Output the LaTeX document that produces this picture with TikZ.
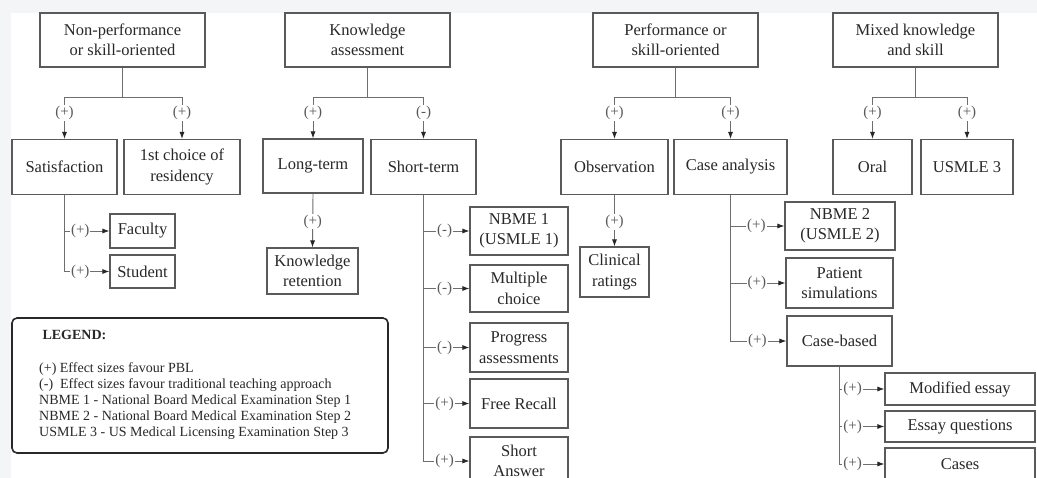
\documentclass[tikz,border=0pt]{standalone}
\usepackage{fontspec}
\setmainfont{Liberation Serif}
\usetikzlibrary{arrows.meta}
\definecolor{linegrey}{RGB}{110,110,110}
\definecolor{boxgrey}{RGB}{90,90,90}
\definecolor{textgrey}{RGB}{40,40,40}
\definecolor{bggrey}{RGB}{244,245,246}
\tikzset{
  box/.style={draw=boxgrey, line width=1.1pt, fill=white, text=textgrey, align=center,
    inner sep=0pt, font=\fontsize{16.5}{20.5}\selectfont},
  conn/.style={draw=linegrey, line width=0.9pt},
  arr/.style={conn, -{Latex[length=7pt,width=5pt,color=black!85]}},
  sign/.style={fill=white, text=black!65, inner sep=1pt, font=\fontsize{15}{15}\selectfont},
}
\begin{document}
\begin{tikzpicture}[x=1pt,y=-1pt]
  \useasboundingbox (0,0) rectangle (1037,478);
  \clip (0,0) rectangle (1037,478);
  \fill[bggrey] (0,0) rectangle (1037,478);
  \fill[white] (11,13) rectangle (1037,478);

  % Top row
  \node[box, minimum width=165, minimum height=54] (np) at (122.5,40) {Non-performance\\or skill-oriented};
  \node[box, minimum width=165, minimum height=54] (ka) at (367.5,40) {Knowledge\\assessment};
  \node[box, minimum width=165, minimum height=54] (ps) at (675.5,40) {Performance or\\skill-oriented};
  \node[box, minimum width=165, minimum height=54] (mk) at (915.5,40) {Mixed knowledge\\and skill};

  % Second row
  \node[box, minimum width=105, minimum height=55] (sat) at (64.5,167) {Satisfaction};
  \node[box, minimum width=116, minimum height=55] (fc) at (182,167) {1st choice of\\residency};
  \node[box, minimum width=100, minimum height=54] (lt) at (313,166) {Long-term};
  \node[box, minimum width=105, minimum height=55] (st) at (423.5,167) {Short-term};
  \node[box, minimum width=107, minimum height=55] (obs) at (614.5,167) {Observation};
  \node[box, minimum width=113, minimum height=55] (ca) at (730.5,167) {Case analysis};
  \node[box, minimum width=79, minimum height=55] (oral) at (872.5,167) {Oral};
  \node[box, minimum width=92, minimum height=55] (us3) at (967,167) {USMLE 3};

  % Third row
  \node[box, minimum width=65, minimum height=34] (fac) at (142.5,231) {Faculty};
  \node[box, minimum width=65, minimum height=33] (stu) at (142.5,271.5) {Student};
  \node[box, minimum width=91, minimum height=46] (kr) at (312.5,271) {Knowledge\\retention};
  \node[box, minimum width=98, minimum height=48] (nb1) at (519,231) {NBME 1\\(USMLE 1)};
  \node[box, minimum width=98, minimum height=47] (mc) at (519,288.5) {Multiple\\choice};
  \node[box, minimum width=98, minimum height=49] (pa) at (519,347.5) {Progress\\assessments};
  \node[box, minimum width=98, minimum height=49] (fr) at (519,403.5) {Free Recall};
  \node[box, minimum width=98, minimum height=48] (sa) at (519,461) {Short\\Answer};
  \node[box, minimum width=69, minimum height=50] (cr) at (614.5,272) {Clinical\\ratings};
  \node[box, minimum width=110, minimum height=48] (nb2) at (840,226) {NBME 2\\(USMLE 2)};
  \node[box, minimum width=107, minimum height=50] (psim) at (839.5,283) {Patient\\simulations};
  \node[box, minimum width=105, minimum height=50] (cb) at (839.5,341) {Case-based};
  \node[box, minimum width=150, minimum height=32] (me) at (960,389) {Modified essay};
  \node[box, minimum width=150, minimum height=31] (eq) at (960,426.5) {Essay questions};
  \node[box, minimum width=150, minimum height=32] (cs) at (960,464) {Cases};

  % Junctions
  \coordinate (npj) at (122.5,97);
  \coordinate (kaj) at (367.5,97);
  \coordinate (psj) at (675.5,97);
  \coordinate (mkj) at (915.5,97);

  % Connectors
  \draw[conn] (np.south) -- (npj);
  \draw[arr] (npj) -| node[sign,pos=0.69] {(+)} (sat.north);
  \draw[arr] (npj) -| node[sign,pos=0.69] {(+)} (fc.north);
  \draw[conn] (ka.south) -- (kaj);
  \draw[arr] (kaj) -| node[sign,pos=0.69] {(+)} (lt.north);
  \draw[arr] (kaj) -| node[sign,pos=0.69] {(-)} (st.north);
  \draw[conn] (ps.south) -- (psj);
  \draw[arr] (psj) -| node[sign,pos=0.69] {(+)} (obs.north);
  \draw[arr] (psj) -| node[sign,pos=0.69] {(+)} (ca.north);
  \draw[conn] (mk.south) -- (mkj);
  \draw[arr] (mkj) -| node[sign,pos=0.69] {(+)} (oral.north);
  \draw[arr] (mkj) -| node[sign,pos=0.69] {(+)} (us3.north);

  \draw[arr] (sat.south) |- node[sign,pos=0.675] {(+)} (fac.west);
  \draw[arr] (sat.south) |- node[sign,pos=0.675] {(+)} (stu.west);
  \draw[arr] (lt.south) -- node[sign,pos=0.52] {(+)} (kr.north);
  \draw[arr] (st.south) |- node[sign,pos=0.73] {(-)} (nb1.west);
  \draw[arr] (st.south) |- node[sign,pos=0.73] {(-)} (mc.west);
  \draw[arr] (st.south) |- node[sign,pos=0.73] {(-)} (pa.west);
  \draw[arr] (st.south) |- node[sign,pos=0.73] {(+)} (fr.west);
  \draw[arr] (st.south) |- node[sign,pos=0.73] {(+)} (sa.west);
  \draw[arr] (obs.south) -- node[sign,pos=0.52] {(+)} (cr.north);
  \draw[arr] (ca.south) |- node[sign,pos=0.74] {(+)} (nb2.west);
  \draw[arr] (ca.south) |- node[sign,pos=0.74] {(+)} (psim.west);
  \draw[arr] (ca.south) |- node[sign,pos=0.74] {(+)} (cb.west);
  \draw[arr] (cb.south) |- node[sign,pos=0.645] {(+)} (me.west);
  \draw[arr] (cb.south) |- node[sign,pos=0.645] {(+)} (eq.west);
  \draw[arr] (cb.south) |- node[sign,pos=0.645] {(+)} (cs.west);

  % Legend
  \node[draw=textgrey, line width=1.6pt, rounded corners=5pt, minimum width=376, minimum height=135] (legend) at (200,385.5) {};
  \node[anchor=west, text=textgrey, font=\fontsize{14}{16}\selectfont\bfseries] (legtitle) at (39,335) {LEGEND:};
  \node[anchor=north west, align=left, inner sep=0pt, text=textgrey, font=\fontsize{14}{16.2}\selectfont] (legtext) at (39,362) {(+) Effect sizes favour PBL\\(-)\ \ Effect sizes favour traditional teaching approach\\NBME 1 - National Board Medical Examination Step 1\\NBME 2 - National Board Medical Examination Step 2\\USMLE 3 - US Medical Licensing Examination Step 3};
\end{tikzpicture}
\end{document}
